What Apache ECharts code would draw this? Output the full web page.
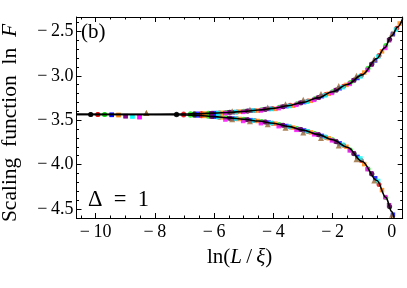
<!DOCTYPE html>
<html><head><meta charset="utf-8">
<script src="https://cdn.jsdelivr.net/npm/echarts@6/dist/echarts.min.js"></script>
<style>html,body{margin:0;padding:0;background:#fff}#c{width:407px;height:288px}</style>
</head><body><div id="c"></div>
<script>
// ---- tick labels ----
const xTicks = [-10, -8, -6, -4, -2, 0];
const yTicks = [-4.5, -4.0, -3.5, -3.0, -2.5];

// ---- data series (x = ln(L/xi), upper branch, lower branch) ----
const xBlack = [-10.17, -7.27, -6.67, -6.07, -5.47, -4.87, -4.27, -3.67, -3.07, -2.47, -1.87, -1.27, -0.67, -0.07];
const upBlack = [-3.435, -3.432, -3.428, -3.422, -3.412, -3.397, -3.377, -3.348, -3.305, -3.245, -3.159, -3.048, -2.868, -2.589];
const loBlack = [-3.435, -3.439, -3.446, -3.458, -3.478, -3.495, -3.522, -3.558, -3.606, -3.664, -3.742, -3.879, -4.107, -4.474];

const xRed = [-9.93, -7.03, -6.43, -5.83, -5.23, -4.63, -4.03, -3.43, -2.83, -2.23, -1.63, -1.03, -0.43, 0.17];
const upRed = [-3.435, -3.431, -3.426, -3.418, -3.407, -3.390, -3.368, -3.333, -3.283, -3.212, -3.119, -2.996, -2.772, -2.465];
const loRed = [-3.435, -3.441, -3.450, -3.466, -3.484, -3.505, -3.534, -3.576, -3.628, -3.692, -3.783, -3.955, -4.224];

const xGreen = [-9.70, -6.80, -6.20, -5.60, -5.00, -4.40, -3.80, -3.20, -2.60, -2.00, -1.40, -0.80, -0.20];
const upGreen = [-3.435, -3.429, -3.423, -3.415, -3.401, -3.382, -3.355, -3.315, -3.259, -3.180, -3.076, -2.916, -2.660];
const loGreen = [-3.435, -3.444, -3.455, -3.474, -3.490, -3.515, -3.549, -3.595, -3.650, -3.720, -3.837, -4.051, -4.370];

const xBlue = [-9.46, -6.56, -5.96, -5.36, -4.76, -4.16, -3.56, -2.96, -2.36, -1.76, -1.16, -0.56, 0.04];
const upBlue = [-3.440, -3.428, -3.420, -3.410, -3.394, -3.373, -3.342, -3.296, -3.230, -3.141, -3.025, -2.827, -2.530];
const loBlue = [-3.440, -3.447, -3.461, -3.481, -3.500, -3.527, -3.566, -3.616, -3.677, -3.761, -3.914, -4.154, -4.565];

const xOrange = [-9.23, -6.33, -5.73, -5.13, -4.53, -3.93, -3.33, -2.73, -2.13, -1.53, -0.93, -0.33, 0.27];
const upOrange = [-3.442, -3.425, -3.417, -3.404, -3.392, -3.373, -3.337, -3.282, -3.203, -3.103, -2.964, -2.725, -2.411];
const loOrange = [-3.442, -3.452, -3.469, -3.487, -3.509, -3.540, -3.584, -3.638, -3.704, -3.800, -3.995, -4.288];

const xPurple = [-8.99, -6.09, -5.49, -4.89, -4.29, -3.69, -3.09, -2.49, -1.89, -1.29, -0.69, -0.09];
const upPurple = [-3.455, -3.422, -3.413, -3.398, -3.378, -3.349, -3.307, -3.248, -3.162, -3.053, -2.875, -2.600];
const loPurple = [-3.455, -3.458, -3.477, -3.494, -3.521, -3.557, -3.604, -3.661, -3.739, -3.872, -4.098, -4.458];

const xCyan = [-8.76, -5.86, -5.26, -4.66, -4.06, -3.46, -2.86, -2.26, -1.66, -1.06, -0.46, 0.14];
const upCyan = [-3.458, -3.419, -3.407, -3.391, -3.374, -3.341, -3.292, -3.221, -3.129, -3.008, -2.786, -2.480];
const loCyan = [-3.458, -3.465, -3.483, -3.504, -3.532, -3.573, -3.625, -3.689, -3.778, -3.931, -4.185];

const xMagenta = [-8.52, -5.62, -5.02, -4.42, -3.82, -3.22, -2.62, -2.02, -1.42, -0.82, -0.22];
const upMagenta = [-3.465, -3.420, -3.407, -3.391, -3.365, -3.327, -3.271, -3.193, -3.091, -2.935, -2.686];
const loMagenta = [-3.465, -3.493, -3.509, -3.534, -3.568, -3.609, -3.660, -3.728, -3.841, -4.052, -4.367];

const xBrown = [-8.29, -5.39, -4.79, -4.19, -3.59, -2.99, -2.39, -1.79, -1.19, -0.59, 0.01];
const upBrown = [-3.420, -3.400, -3.383, -3.356, -3.321, -3.271, -3.204, -3.116, -3.001, -2.813, -2.525];
const loBrown = [-3.420, -3.490, -3.513, -3.546, -3.586, -3.638, -3.701, -3.786, -3.939, -4.181, -4.565];

// ---- fitted scaling curves ----
const fitX = [-10.65, -9, -8, -7, -6.5, -6, -5.5, -5, -4.5, -4, -3.5, -3, -2.5, -2, -1.5, -1, -0.5, -0.25, 0, 0.2, 0.37];
const fitUp = [-3.435, -3.435, -3.434, -3.431, -3.427, -3.421, -3.413, -3.401, -3.386, -3.367, -3.338, -3.300, -3.249, -3.180, -3.098, -2.990, -2.805, -2.688, -2.550, -2.450, -2.355];
const fitXLo = [-10.65, -9, -8, -7, -6.5, -6, -5.5, -5, -4.5, -4, -3.5, -3, -2.5, -2, -1.5, -1, -0.5, -0.2, 0, 0.08];
const fitLo = [-3.435, -3.436, -3.438, -3.441, -3.448, -3.460, -3.474, -3.490, -3.510, -3.535, -3.570, -3.612, -3.660, -3.720, -3.805, -3.965, -4.180, -4.370, -4.530, -4.600];

// ---- styles (kept apart from data) ----
const groups = [
  { x: xBlack, up: upBlack, lo: loBlack, color: '#000000', symbol: 'circle', size: 5 },
  { x: xRed, up: upRed, lo: loRed, color: '#e00000', symbol: 'circle', size: 5 },
  { x: xGreen, up: upGreen, lo: loGreen, color: '#00e000', symbol: 'circle', size: 5 },
  { x: xBlue, up: upBlue, lo: loBlue, color: '#0000ff', symbol: 'rect', size: 4.5 },
  { x: xOrange, up: upOrange, lo: loOrange, color: '#ff8000', symbol: 'rect', size: 4.5 },
  { x: xPurple, up: upPurple, lo: loPurple, color: '#800080', symbol: 'rect', size: 4.5 },
  { x: xCyan, up: upCyan, lo: loCyan, color: '#00ffff', symbol: 'rect', size: 4.5 },
  { x: xMagenta, up: upMagenta, lo: loMagenta, color: '#ff00ff', symbol: 'rect', size: 4.5 },
  { x: xBrown, up: upBrown, lo: loBrown, color: '#996633', symbol: 'triangle', size: 6 }
];

const FONT = '"Liberation Serif", "Times New Roman", serif';
const X_MIN = -10.65, X_MAX = 0.37, Y_MIN = -4.602, Y_MAX = -2.338;
const NEG = '\u2212\u2009';

function isTick(list, v) { return list.some(t => Math.abs(t - v) < 1e-9); }

function xAx(pos, step, major, labels) {
  return {
    type: 'value', position: pos, min: X_MIN, max: X_MAX,
    minInterval: step, maxInterval: step, splitNumber: 20,
    axisLine: { show: major, onZero: false, lineStyle: { color: '#000', width: 1 } },
    axisTick: { show: true, inside: true, length: major ? 5 : 2.5, lineStyle: { color: '#000', width: 1 } },
    axisLabel: labels ? {
      show: true, margin: 5, color: '#000', fontFamily: FONT, fontSize: 18,
      formatter: v => isTick(xTicks, v) ? (v < -1e-9 ? NEG : '') + Math.abs(Math.round(v)) : ''
    } : { show: false },
    splitLine: { show: false }
  };
}
function yAx(pos, step, major, labels) {
  return {
    type: 'value', position: pos, min: Y_MIN, max: Y_MAX,
    minInterval: step, maxInterval: step, splitNumber: 25,
    axisLine: { show: major, onZero: false, lineStyle: { color: '#000', width: 1 } },
    axisTick: { show: true, inside: true, length: major ? 5 : 2.5, lineStyle: { color: '#000', width: 1 } },
    axisLabel: labels ? {
      show: true, margin: 3, color: '#000', fontFamily: FONT, fontSize: 18,
      formatter: v => isTick(yTicks, v) ? (v < 0 ? NEG : '') + Math.abs(v).toFixed(1) : ''
    } : { show: false },
    splitLine: { show: false }
  };
}

const xMain = xAx('bottom', 2, true, true);
xMain.name = '{n|ln(}{i|L}{n|\u2009/\u2009}{i|\u03BE}{n|)}';
xMain.nameLocation = 'middle';
xMain.nameGap = 29;
xMain.nameTextStyle = { rich: {
  n: { fontFamily: FONT, fontSize: 21, color: '#000' },
  i: { fontFamily: FONT, fontSize: 21, color: '#000', fontStyle: 'italic' } } };

const yMain = yAx('left', 0.5, true, true);
yMain.name = '{n|Scaling\u2002function\u2002ln\u2002}{i|F}';
yMain.nameLocation = 'middle';
yMain.nameGap = 55;
yMain.nameTextStyle = { padding: [0, 11, 0, 0], rich: {
  n: { fontFamily: FONT, fontSize: 21.5, color: '#000' },
  i: { fontFamily: FONT, fontSize: 21.5, color: '#000', fontStyle: 'italic' } } };

const series = [];
groups.forEach(g => {
  const data = [];
  g.up.forEach((y, i) => data.push([g.x[i], y]));
  g.lo.forEach((y, i) => data.push([g.x[i], y]));
  series.push({
    type: 'scatter', xAxisIndex: 0, yAxisIndex: 0, data,
    symbol: g.symbol, symbolSize: g.size,
    itemStyle: { color: g.color }, silent: true, z: 2
  });
});
[[fitX, fitUp], [fitXLo, fitLo]].forEach(([xs, ys]) => {
  series.push({
    type: 'line', xAxisIndex: 0, yAxisIndex: 0,
    data: xs.map((x, i) => [x, ys[i]]),
    showSymbol: false, smooth: 0.35, smoothMonotone: 'x',
    lineStyle: { color: '#000', width: 1.6 }, silent: true, z: 5
  });
});

const chart = echarts.init(document.getElementById('c'), null, { renderer: 'canvas' });
chart.setOption({
  animation: false,
  backgroundColor: '#fff',
  grid: { left: 76.5, right: 4.3, top: 17, bottom: 70, containLabel: false, outerBoundsMode: 'none' },
  xAxis: [xMain, xAx('bottom', 0.5, false, false), xAx('top', 2, true, false), xAx('top', 0.5, false, false)],
  yAxis: [yMain, yAx('left', 0.1, false, false), yAx('right', 0.5, true, false), yAx('right', 0.1, false, false)],
  graphic: [
    { type: 'text', left: 81, top: 22, silent: true,
      style: { text: '(b)', font: '21px "Liberation Serif", serif', fill: '#000' } },
    { type: 'text', left: 88, top: 189, silent: true,
      style: { text: '\u0394\u2002=\u20021', font: '22.5px "Liberation Serif", serif', fill: '#000' } }
  ],
  series
});
</script>
</body></html>
